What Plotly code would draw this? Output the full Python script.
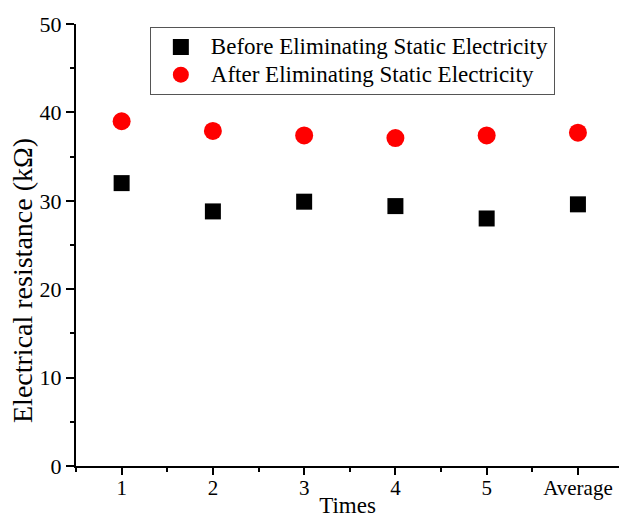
import plotly.graph_objects as go

categories = ["1", "2", "3", "4", "5", "Average"]
x_pos = [1, 2, 3, 4, 5, 6]
before = [32.0, 28.8, 29.9, 29.4, 28.0, 29.6]
after = [39.0, 37.9, 37.4, 37.1, 37.4, 37.7]
y_ticks = [0, 10, 20, 30, 40, 50]
series_names = ["Before Eliminating Static Electricity", "After Eliminating Static Electricity"]
y_title = "Electrical resistance (kΩ)"
x_title = "Times"

FONT = "Liberation Serif, Times New Roman, serif"

def big(t):
    return '<span style="font-size:23px">' + t + '</span>'

fig = go.Figure()
fig.add_trace(go.Scatter(
    x=x_pos, y=before, mode="markers", name=big(series_names[0]),
    marker=dict(symbol="square", size=16, color="black", line=dict(width=0)),
))
fig.add_trace(go.Scatter(
    x=x_pos, y=after, mode="markers", name=big(series_names[1]),
    marker=dict(symbol="circle", size=18, color="#ff0000", line=dict(width=0)),
))

fig.update_layout(
    width=619, height=518,
    margin=dict(l=76, r=0, t=24, b=52, autoexpand=False),
    plot_bgcolor="white", paper_bgcolor="white",
    font=dict(family=FONT, size=21, color="black"),
    showlegend=True,
    legend=dict(
        x=0.136, y=0.993, xanchor="left", yanchor="top",
        bordercolor="#555555", borderwidth=1, bgcolor="white",
        font=dict(size=19, family=FONT),
        itemsizing="trace", itemwidth=50,
        tracegroupgap=0,
    ),
    xaxis=dict(
        range=[0.5, 6.45], tickmode="array", tickvals=x_pos, ticktext=categories,
        showgrid=False, zeroline=False, showline=True, linecolor="black", linewidth=2,
        ticks="outside", ticklen=7, tickwidth=2, tickcolor="black",
        minor=dict(ticks="outside", ticklen=4, tickwidth=2, tickcolor="black", dtick=0.5, tick0=0.5, showgrid=False),
        title=dict(text=x_title, standoff=0, font=dict(size=23)),
        tickfont=dict(size=21),
        ticklabelstandoff=-5,
        automargin=False,
    ),
    yaxis=dict(
        range=[0, 50], tickmode="array", tickvals=y_ticks,
        showgrid=False, zeroline=False, showline=True, linecolor="black", linewidth=2,
        ticks="outside", ticklen=8, tickwidth=2, tickcolor="black",
        minor=dict(ticks="outside", ticklen=4, tickwidth=2, tickcolor="black", dtick=5, showgrid=False),
        tickfont=dict(size=22),
        automargin=False,
    ),
    annotations=[dict(
        text=y_title, textangle=-90, xref="paper", yref="paper",
        x=-0.0976, y=0.4186, xanchor="center", yanchor="middle",
        showarrow=False, font=dict(size=28, family=FONT),
    )],
)

fig.write_html("out.html", config={"displayModeBar": False},
               post_script="document.body.style.margin='0';document.body.style.overflow='hidden';")
